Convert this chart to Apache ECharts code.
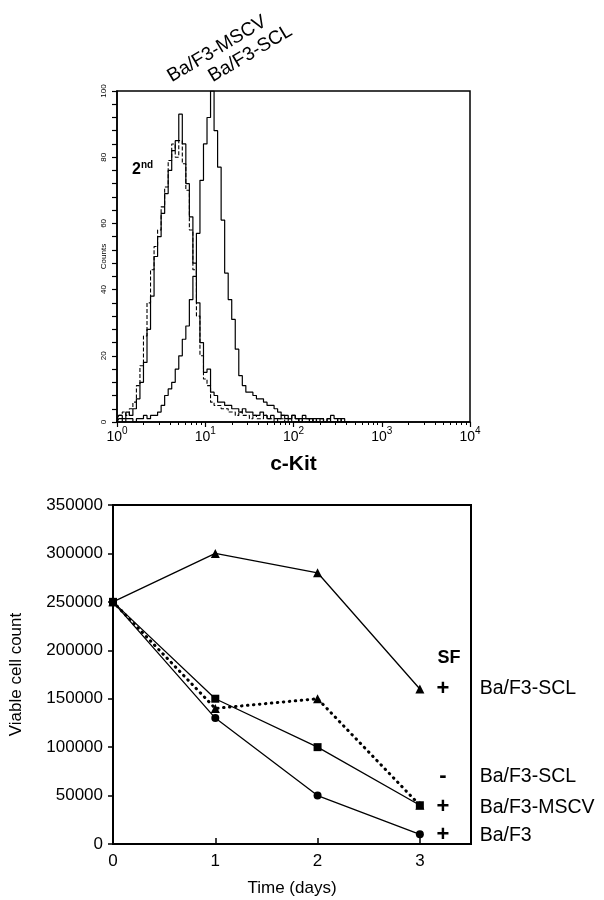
<!DOCTYPE html>
<html><head><meta charset="utf-8">
<script src="https://cdn.jsdelivr.net/npm/echarts@6/dist/echarts.min.js"></script>
<style>html,body{margin:0;padding:0;background:#fff}#c{width:604px;height:900px}</style>
</head><body><div id="c"></div>
<script>
// ---- Histogram (top panel): x in log10 units of c-Kit fluorescence ----
const logX = [0,0.04,0.08,0.12,0.16,0.2,0.24,0.28,0.32,0.36,0.4,0.44,0.48,0.52,0.56,0.6,0.64,0.68,0.72,0.76,0.8,0.84,0.88,0.92,0.96,1,1.04,1.08,1.12,1.16,1.2,1.24,1.28,1.32,1.36,1.4,1.44,1.48,1.52,1.56,1.6,1.64,1.68,1.72,1.76,1.8,1.84,1.88,1.92,1.96,2,2.04,2.08,2.12,2.16,2.2,2.24,2.28,2.32,2.36,2.4,2.44,2.48,2.52,2.56,2.6,2.64];
const countsSecond = [0,2,3,2,4,6,11,17,26,36,46,53,58,65,71,79,84,80,85,78,70,58,46,32,20,13,11,6,5,5,4,4,3,3,2,3,2,2,1,2,1,1,2,1,1,0,1,1,0,1,0,0,1,0,0,1,0,0,0,0,0,0,0,0,0,0,0];
const countsMSCV = [1,2,1,3,2,4,7,12,18,28,38,50,56,63,69,76,82,85,93,84,72,62,48,36,24,15,16,9,8,6,6,5,5,4,4,3,4,3,3,2,2,3,2,1,2,1,1,2,1,1,2,1,0,1,1,0,1,0,1,0,1,0,0,1,0,0,0];
const countsSCL = [0,1,0,1,1,0,1,1,2,1,2,2,3,5,8,10,12,16,20,25,29,37,44,57,73,84,92,100,88,77,61,45,37,31,22,14,11,9,9,8,7,7,6,5,5,4,3,2,2,1,2,1,1,2,1,1,0,1,1,0,1,2,1,0,1,0,0];
const decadeExponents = [0,1,2,3,4];
const histLabels = ['Ba/F3-MSCV','Ba/F3-SCL'];

// ---- Viability (bottom panel) ----
const days = [0,1,2,3];
const sclPlusSF  = [250000,300000,280000,160000];
const sclMinusSF = [250000,140000,150000,40000];
const mscvPlusSF = [250000,150000,100000,40000];
const baf3PlusSF = [250000,130000,50000,10000];
const sfSigns = ['+','-','+','+'];
const sfNames = ['Ba/F3-SCL','Ba/F3-SCL','Ba/F3-MSCV','Ba/F3'];
const sfRowValues = [160000,70000,38000,9000];

const FF = '"Liberation Sans", Arial, Helvetica, sans-serif';
const minorTickValues = [];
for (let d = 0; d < 4; d++) for (let k = 2; k <= 9; k++) minorTickValues.push(d + Math.log10(k));

const pairs = (xs, ys) => xs.map((x, i) => [x, ys[i]]);
const ROT = 31 * Math.PI / 180;

const chart = echarts.init(document.getElementById('c'), null, {renderer: 'canvas'});
const option = {
  animation: false,
  backgroundColor: '#fff',
  textStyle: {fontFamily: FF, color: '#000'},
  grid: [
    {left: 117, top: 91, width: 353, height: 331, show: true, borderColor: '#000', borderWidth: 1.5, backgroundColor: 'transparent'},
    {left: 113, top: 505, width: 358, height: 339, show: true, borderColor: '#000', borderWidth: 2, backgroundColor: 'transparent'}
  ],
  xAxis: [
    {gridIndex: 0, type: 'value', min: 0, max: 4, interval: 1,
     axisLine: {show: true, lineStyle: {color: '#000', width: 1.5}},
     axisTick: {show: true, inside: false, length: 5, lineStyle: {color: '#000', width: 1.2}},
     splitLine: {show: false},
     axisLabel: {margin: 4, color: '#000',
       formatter: v => decadeExponents.indexOf(v) >= 0 ? '{n|10}{e|' + v + '}' : '',
       rich: {n: {fontSize: 14, fontFamily: FF, color: '#000', lineHeight: 18, verticalAlign: 'bottom'},
              e: {fontSize: 10, fontFamily: FF, color: '#000', lineHeight: 10, verticalAlign: 'top'}}},
     name: 'c-Kit', nameLocation: 'middle', nameGap: 32, nameMoveOverlap: false,
     nameTextStyle: {fontSize: 21, fontWeight: 'bold', fontFamily: FF, color: '#000'}},
    {gridIndex: 0, type: 'value', min: 0, max: 4, position: 'bottom',
     axisLine: {show: false}, splitLine: {show: false}, axisLabel: {show: false},
     axisTick: {show: true, inside: false, length: 3, customValues: minorTickValues, lineStyle: {color: '#000', width: 1}}},
    {gridIndex: 1, type: 'value', min: 0, max: 3.5, interval: 1,
     axisLine: {show: true, lineStyle: {color: '#000', width: 2}},
     axisTick: {show: true, inside: true, length: 6, lineStyle: {color: '#000', width: 1.5}},
     splitLine: {show: false},
     axisLabel: {margin: 9, fontSize: 17, color: '#000', fontFamily: FF,
       formatter: v => Number.isInteger(v) ? String(v) : ''},
     name: 'Time (days)', nameLocation: 'middle', nameGap: 36, nameMoveOverlap: false,
     nameTextStyle: {fontSize: 17, fontFamily: FF, color: '#000'}}
  ],
  yAxis: [
    {gridIndex: 0, type: 'value', min: 0, max: 100, interval: 4,
     axisLine: {show: true, lineStyle: {color: '#000', width: 1.5}},
     axisTick: {show: true, inside: false, length: 5, lineStyle: {color: '#000', width: 1.2}},
     splitLine: {show: false},
     axisLabel: {rotate: 90, margin: 9, fontSize: 8, color: '#000', fontFamily: FF,
       formatter: v => v % 20 === 0 ? String(v) : ''},
     name: 'Counts', nameLocation: 'middle', nameRotate: 90, nameGap: 9, nameMoveOverlap: false,
     nameTextStyle: {fontSize: 8, fontFamily: FF, color: '#000'}},
    {gridIndex: 1, type: 'value', min: 0, max: 350000, interval: 50000,
     axisLine: {show: true, lineStyle: {color: '#000', width: 2}},
     axisTick: {show: true, inside: false, length: 5, lineStyle: {color: '#000', width: 1.5}},
     splitLine: {show: false},
     axisLabel: {margin: 10, fontSize: 17, color: '#000', fontFamily: FF, formatter: v => String(v)},
     name: 'Viable cell count', nameLocation: 'middle', nameRotate: 90, nameGap: 88, nameMoveOverlap: false,
     nameTextStyle: {fontSize: 17, fontFamily: FF, color: '#000'}}
  ],
  series: [
    {name: '2nd', type: 'line', xAxisIndex: 0, yAxisIndex: 0, step: 'middle', symbol: 'none',
     data: pairs(logX, countsSecond), lineStyle: {color: '#000', width: 1.1, type: [4, 2]}},
    {name: 'Ba/F3-MSCV', type: 'line', xAxisIndex: 0, yAxisIndex: 0, step: 'middle', symbol: 'none',
     data: pairs(logX, countsMSCV), lineStyle: {color: '#000', width: 1.2}},
    {name: 'Ba/F3-SCL', type: 'line', xAxisIndex: 0, yAxisIndex: 0, step: 'middle', symbol: 'none',
     data: pairs(logX, countsSCL), lineStyle: {color: '#000', width: 1.2}},

    {name: 'Ba/F3 +SF', type: 'line', xAxisIndex: 2, yAxisIndex: 1, symbol: 'circle', symbolSize: 8,
     data: pairs(days, baf3PlusSF), lineStyle: {color: '#000', width: 1.3}, itemStyle: {color: '#000'}},
    {name: 'Ba/F3-SCL +SF', type: 'line', xAxisIndex: 2, yAxisIndex: 1, symbol: 'triangle', symbolSize: 9,
     data: pairs(days, sclPlusSF), lineStyle: {color: '#000', width: 1.3}, itemStyle: {color: '#000'}},
    {name: 'Ba/F3-SCL -SF', type: 'line', xAxisIndex: 2, yAxisIndex: 1, symbol: 'triangle', symbolSize: 9,
     data: pairs(days, sclMinusSF), lineStyle: {color: '#000', width: 3, type: [0.5, 5.5], cap: 'round'}, itemStyle: {color: '#000'}},
    {name: 'Ba/F3-MSCV +SF', type: 'line', xAxisIndex: 2, yAxisIndex: 1, symbol: 'rect', symbolSize: 8,
     data: pairs(days, mscvPlusSF), lineStyle: {color: '#000', width: 1.3}, itemStyle: {color: '#000'}},

    {name: 'SF header', type: 'scatter', xAxisIndex: 2, yAxisIndex: 1, symbolSize: 0, clip: false, silent: true,
     itemStyle: {opacity: 1, color: '#000'},
     data: [[3.285, 192000]],
     label: {show: true, position: 'inside', formatter: 'SF', fontSize: 18, fontWeight: 'bold', color: '#000', fontFamily: FF}},
    {name: 'SF signs', type: 'scatter', xAxisIndex: 2, yAxisIndex: 1, symbolSize: 0, clip: false, silent: true,
     itemStyle: {opacity: 1, color: '#000'},
     data: sfRowValues.map(v => [3.226, v]),
     label: {show: true, position: 'inside', formatter: p => sfSigns[p.dataIndex], fontSize: 22, fontWeight: 'bold', color: '#000', fontFamily: FF}},
    {name: 'SF names', type: 'scatter', xAxisIndex: 2, yAxisIndex: 1, symbolSize: 0, clip: false, silent: true,
     itemStyle: {opacity: 1, color: '#000'},
     data: sfRowValues.map(v => [3.585, v]),
     label: {show: true, position: 'right', distance: 0, formatter: p => sfNames[p.dataIndex], fontSize: 19.5, color: '#000', fontFamily: FF}}
  ],
  graphic: [
    {type: 'text', x: 174, y: 86, rotation: ROT,
     style: {text: histLabels[0], x: 0, y: 0, fontSize: 19, fontFamily: FF, fill: '#000', align: 'left', verticalAlign: 'bottom'}},
    {type: 'text', x: 215, y: 86, rotation: ROT,
     style: {text: histLabels[1], x: 0, y: 0, fontSize: 19, fontFamily: FF, fill: '#000', align: 'left', verticalAlign: 'bottom'}},
    {type: 'text', x: 132, y: 160,
     style: {text: '{a|2}{b|nd}', x: 0, y: 0, align: 'left', verticalAlign: 'top',
       rich: {a: {fontSize: 16, fontWeight: 'bold', fontFamily: FF, fill: '#000', lineHeight: 18, verticalAlign: 'bottom'},
              b: {fontSize: 10, fontWeight: 'bold', fontFamily: FF, fill: '#000', lineHeight: 10, verticalAlign: 'top'}}}}
  ]
};
chart.setOption(option);
</script></body></html>
